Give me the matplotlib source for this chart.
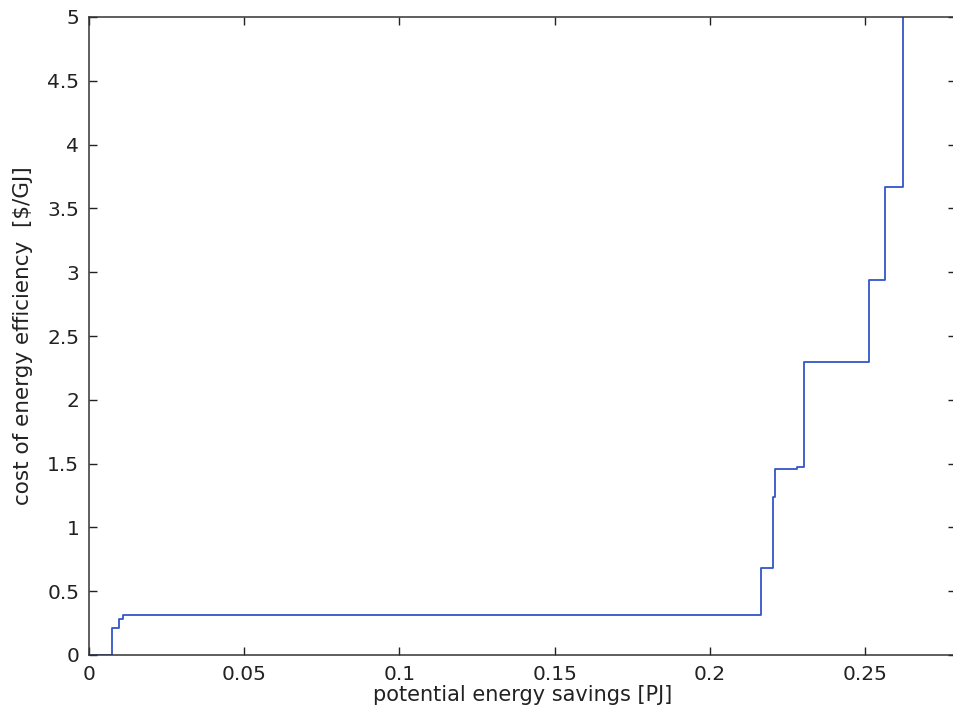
import matplotlib.pyplot as plt

# supply curve: cumulative savings [PJ] vs. cost [$/GJ], drawn as steps
savings = [0.0, 0.0073, 0.0098, 0.0108, 0.2164, 0.2205, 0.2209, 0.2280, 0.2305, 0.2514, 0.2564, 0.2623]
cost = [0.0, 0.21, 0.28, 0.31, 0.68, 1.24, 1.46, 1.47, 2.30, 2.94, 3.67, 5.0]

xticks = [0, 0.05, 0.1, 0.15, 0.2, 0.25]
yticks = [0, 0.5, 1, 1.5, 2, 2.5, 3, 3.5, 4, 4.5, 5]

plt.rcParams['font.family'] = ['DejaVu Sans']

fig = plt.figure(figsize=(9.54, 7.25), dpi=100)
W, H = 954, 725
# axes run a little past the right edge of the canvas
x_right = 956
ax = fig.add_axes([89 / W, (H - 655) / H, (x_right - 89) / W, (655 - 17) / H])

ax.step(savings, cost, where='post', color='#3456c8', lw=1.3)

ax.set_xlim(0, (x_right - 89) / 3104)
ax.set_ylim(0, 5)
ax.set_xticks(xticks)
ax.set_xticklabels(['0', '0.05', '0.1', '0.15', '0.2', '0.25'])
ax.set_yticks(yticks)
ax.set_yticklabels(['0', '0.5', '1', '1.5', '2', '2.5', '3', '3.5', '4', '4.5', '5'])
ax.tick_params(direction='in', top=True, right=True, length=6, width=1,
               labelsize=14.5, colors='#222222', pad=7)
for s in ax.spines.values():
    s.set_color('#333333')
    s.set_linewidth(1.1)

ax.set_xlabel('potential energy savings [PJ]', fontsize=15, color='#222222', labelpad=1)
ax.set_ylabel(r'cost of energy efficiency  [\$/GJ]', fontsize=15.5, color='#222222', labelpad=10)

fig.savefig('out.png', dpi=100)
